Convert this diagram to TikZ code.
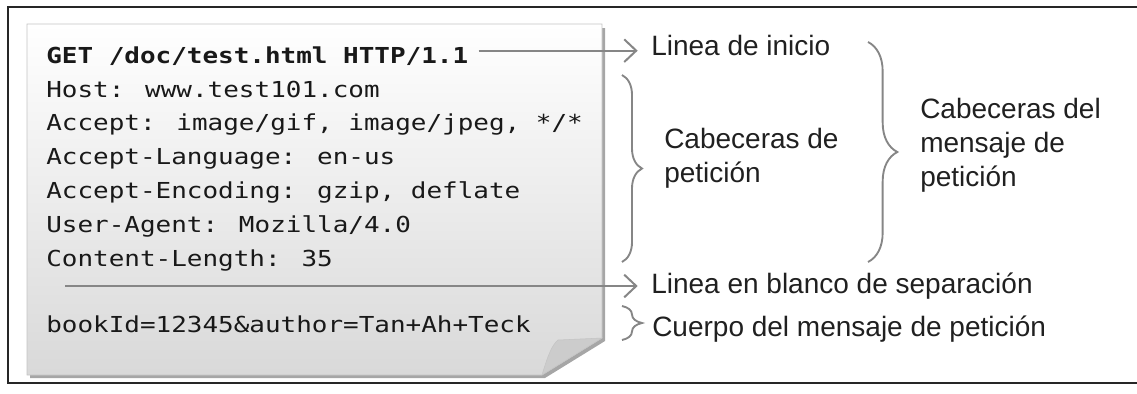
\documentclass[tikz,border=0pt]{standalone}
\usepackage{fontspec}
\setmainfont{Liberation Sans}
\newfontfamily\codefont[FakeStretch=1.18]{DejaVu Sans Mono}
\usetikzlibrary{arrows.meta,decorations.pathreplacing}
\definecolor{linegray}{HTML}{868686}
\definecolor{txtgray}{HTML}{202020}
\definecolor{paperedge}{HTML}{C4C4C4}

\begin{document}
\begin{tikzpicture}[x=0.75pt,y=-0.75pt]
  \tikzset{ code/.style={anchor=base west,inner sep=0pt,text=black!90,font=\codefont\fontsize{16.5}{20}\selectfont},
    lbl/.style={anchor=base west,inner sep=0pt,text=txtgray,font=\fontsize{21}{25.5}\selectfont},
    conn/.style={draw=linegray,line width=1.5pt,-{Straight Barb[length=9pt,width=17pt]}},
    brc/.style={draw=linegray,line width=1.4pt,decorate,decoration={brace,amplitude=#1}},
  }
  \useasboundingbox (0,0) rectangle (1137,393);
  % outer frame, open on the right
  \draw[line width=1.5pt,black!85] (1137,7) -- (8,7) -- (8,383) -- (1137,383);

  % the sheet with its folded corner
  \fill[black!35] (30,28) -- (605,28) -- (605,341) -- (545,378) -- (30,378) -- cycle;
  \shade[top color=white,bottom color=black!15,draw=paperedge] (27,24) -- (602,24) -- (602,338) -- (542,375) -- (27,375) -- cycle;
  \fill[black!20,draw=paperedge] (542,375) .. controls (548,355) and (552,345) .. (558,340) -- (602,338) -- cycle;

  % the request lines
  \node[code] (get) at (46,63) {\bfseries GET /doc/test.html HTTP/1.1};
  \node[code] (host) at (46,97) {Host: www.test101.com};
  \node[code] (accept) at (46,130) {Accept: image/gif, image/jpeg, */*};
  \node[code] (lang) at (46,164) {Accept-Language: en-us};
  \node[code] (enc) at (46,198) {Accept-Encoding: gzip, deflate};
  \node[code] (agent) at (46,232) {User-Agent: Mozilla/4.0};
  \node[code] (clen) at (46,266) {Content-Length: 35};
  \node[code] (body) at (46,332) {bookId=12345\&author=Tan+Ah+Teck};

  % the labels
  \node[lbl] (inicio) at (651,55) {Linea de inicio};
  \node[lbl] (blanco) at (651,293) {Linea en blanco de separación};
  \node[lbl] (cuerpo) at (652,336) {Cuerpo del mensaje de petición};
  \node[lbl,anchor=north west,align=left] (petic) at (664,128) {Cabeceras de\\petición};
  \node[lbl,anchor=north west,align=left] (mensaje) at (920,98) {Cabeceras del\\mensaje de\\petición};

  % arrows and braces
  \coordinate (getend) at ([xshift=7.5pt,yshift=3.75pt]get.east);
  \coordinate (sep) at (65,286);
  \draw[conn,shorten >=10pt] (getend) -- (getend -| inicio.west);
  \draw[conn,shorten >=10pt] (sep) -- (sep -| blanco.west);

  \draw[brc=15pt] (622,75) -- (622,262);
  \draw[brc=22pt] (868,42) -- (868,262);
  \draw[brc=15pt] (622,306) -- (622,340);
\end{tikzpicture}
\end{document}
